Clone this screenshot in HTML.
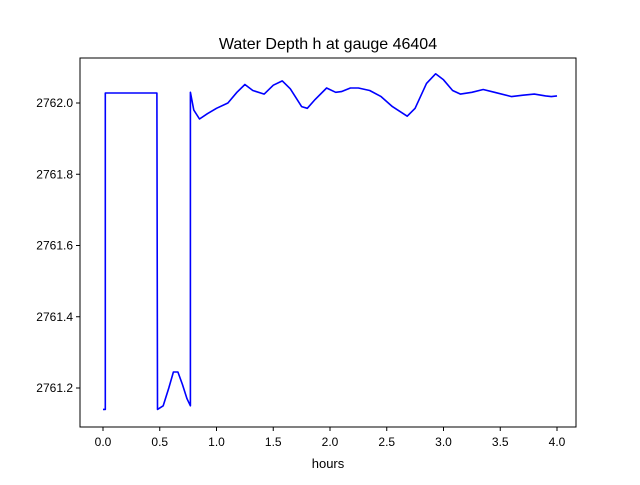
<!DOCTYPE html>
<html><head><meta charset="utf-8"><style>
body{margin:0;background:#fff;}
svg text{font-family:"Liberation Sans","DejaVu Sans",sans-serif;}
</style></head><body>
<svg id="chart" width="640" height="480" xmlns="http://www.w3.org/2000/svg">
<rect width="640" height="480" fill="#fff"/>
<text x="328" y="49" text-anchor="middle" font-size="16">Water Depth h at gauge 46404</text>
<g id="ticks"></g>
<path id="line" fill="none" stroke="#0000ff" stroke-width="1.6" stroke-linejoin="round"/>
<rect x="80" y="58" width="496" height="369" fill="none" stroke="#000" stroke-width="1"/>
<text x="328" y="468" text-anchor="middle" font-size="13">hours</text>
</svg>
<script>
const times=[0,0.02,0.02,0.47,0.475,0.48,0.53,0.58,0.62,0.66,0.70,0.74,0.77,0.77,0.8,0.85,0.92,1.0,1.1,1.18,1.25,1.32,1.42,1.5,1.58,1.65,1.75,1.8,1.87,1.97,2.05,2.1,2.18,2.25,2.35,2.45,2.55,2.68,2.75,2.85,2.93,3.0,3.08,3.15,3.25,3.35,3.45,3.6,3.7,3.8,3.9,3.95,4.0];
const depths=[2761.14,2761.14,2762.028,2762.028,2762.028,2761.14,2761.15,2761.2,2761.245,2761.245,2761.21,2761.17,2761.15,2762.03,2761.98,2761.955,2761.97,2761.985,2762.0,2762.03,2762.052,2762.035,2762.025,2762.05,2762.062,2762.04,2761.99,2761.985,2762.01,2762.042,2762.03,2762.032,2762.042,2762.042,2762.035,2762.018,2761.99,2761.963,2761.985,2762.055,2762.082,2762.065,2762.035,2762.025,2762.03,2762.038,2762.03,2762.018,2762.022,2762.025,2762.02,2762.018,2762.02];
const xTicks=[0,0.5,1,1.5,2,2.5,3,3.5,4];
const yTicks=[2761.2,2761.4,2761.6,2761.8,2762.0];
const xs=t=>103+(t-0)*113.5;
const ys=v=>103-(v-2762.0)*356.25;
const ns="http://www.w3.org/2000/svg";
const g=document.getElementById('ticks');
function mk(tag,a){const e=document.createElementNS(ns,tag);for(const k in a)e.setAttribute(k,a[k]);g.appendChild(e);return e;}
xTicks.forEach(t=>{
 const l=mk('line',{x1:xs(t),x2:xs(t),y1:427,y2:431,stroke:'#000'});
 
 
 const tx=mk('text',{x:xs(t),y:446,'text-anchor':'middle','font-size':12});
 
 
 tx.textContent=t.toFixed(1);
});
yTicks.forEach(v=>{
 const l=mk('line',{x1:76,x2:80,y1:ys(v),y2:ys(v),stroke:'#000'});
 
 
 const tx=mk('text',{x:73,y:ys(v)+4,'text-anchor':'end','font-size':12});
 
 
 tx.textContent=v.toFixed(1);
});
document.getElementById('line').setAttribute('d',times.map((t,i)=>(i?'L':'M')+xs(t).toFixed(1)+','+ys(depths[i]).toFixed(1)).join(''));
</script>
</body></html>
